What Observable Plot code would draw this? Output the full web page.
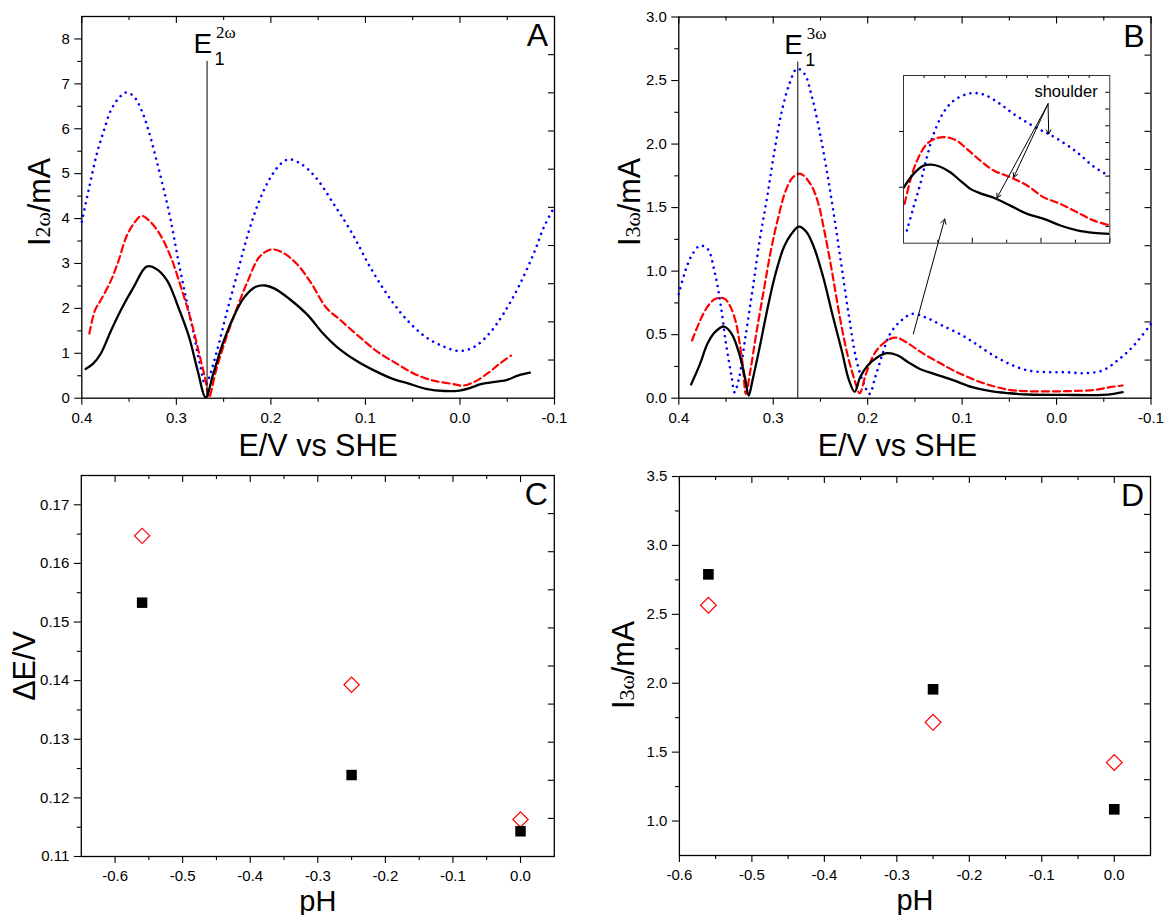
<!DOCTYPE html>
<html>
<head>
<meta charset="utf-8">
<script src="https://cdn.jsdelivr.net/npm/d3@7"></script>
<script src="https://cdn.jsdelivr.net/npm/@observablehq/plot@0.6"></script>
<style>
html, body { margin: 0; padding: 0; background: #fff; }
#chart { position: relative; width: 1165px; height: 915px; overflow: hidden; background: #fff; }
</style>
</head>
<body>
<div id="chart"></div>
<script>
// ---------------- DATA ----------------
// Panel A : second-harmonic current vs potential, [E (V vs SHE), I (mA)]
const aBlack = [[0.396,0.65],[0.388,0.77],[0.380,0.99],[0.369,1.51],[0.357,2.03],[0.345,2.48],[0.3315,2.93],[0.322,2.89],[0.310,2.63],[0.298,2.03],[0.2865,1.36],[0.2775,0.62],[0.269,0.02],[0.261,0.54],[0.251,1.21],[0.2395,1.81],[0.228,2.25],[0.216,2.48],[0.206,2.51],[0.196,2.44],[0.181,2.22],[0.161,1.85],[0.146,1.47],[0.130,1.14],[0.110,0.84],[0.091,0.62],[0.071,0.43],[0.055,0.33],[0.036,0.21],[0.016,0.16],[0.0006,0.17],[-0.011,0.23],[-0.023,0.32],[-0.039,0.37],[-0.050,0.41],[-0.062,0.51],[-0.074,0.57]];
const aRed = [[0.392,1.44],[0.386,1.96],[0.380,2.18],[0.369,2.63],[0.361,3.07],[0.353,3.59],[0.345,3.89],[0.337,4.06],[0.3295,3.97],[0.318,3.67],[0.306,3.15],[0.294,2.40],[0.2845,1.73],[0.275,0.92],[0.269,0.39],[0.2655,0.02],[0.258,0.62],[0.247,1.36],[0.2355,2.03],[0.224,2.63],[0.212,3.15],[0.200,3.31],[0.189,3.26],[0.173,3.00],[0.157,2.55],[0.142,2.03],[0.126,1.73],[0.106,1.36],[0.087,1.03],[0.067,0.77],[0.048,0.54],[0.028,0.39],[0.0085,0.32],[-0.003,0.28],[-0.015,0.36],[-0.031,0.58],[-0.042,0.77],[-0.054,0.95]];
const aBlue = [[0.400,3.93],[0.392,4.71],[0.384,5.45],[0.3765,5.97],[0.369,6.42],[0.361,6.68],[0.353,6.81],[0.345,6.72],[0.337,6.42],[0.3295,5.97],[0.322,5.38],[0.314,4.71],[0.306,3.97],[0.298,3.07],[0.290,2.25],[0.2825,1.51],[0.2745,0.70],[0.2695,0.30],[0.2655,0.45],[0.261,0.75],[0.255,1.21],[0.247,1.88],[0.2355,2.78],[0.224,3.67],[0.212,4.41],[0.200,4.93],[0.189,5.23],[0.181,5.32],[0.169,5.23],[0.153,4.93],[0.134,4.34],[0.114,3.67],[0.095,2.92],[0.075,2.25],[0.0555,1.73],[0.036,1.36],[0.016,1.14],[0.0006,1.05],[-0.015,1.14],[-0.031,1.44],[-0.046,1.88],[-0.062,2.48],[-0.078,3.22],[-0.089,3.82],[-0.100,4.26]];
const aE1 = [{E: 0.2675, top: 7.5, sup: "2ω"}];
const aXTicks = [0.4, 0.3, 0.2, 0.1, 0.0, -0.1];
const aXMinor = [0.35, 0.25, 0.15, 0.05, -0.05];
const aYTicks = [0, 1, 2, 3, 4, 5, 6, 7, 8];
const aYMinor = [0.5, 1.5, 2.5, 3.5, 4.5, 5.5, 6.5, 7.5];

// Panel B : third-harmonic current vs potential
const bBlack = [[0.387,0.108],[0.3775,0.27],[0.3696,0.43],[0.3617,0.52],[0.352,0.564],[0.344,0.507],[0.336,0.35],[0.330,0.165],[0.326,0.02],[0.322,0.14],[0.3144,0.40],[0.3065,0.69],[0.2986,0.95],[0.2887,1.19],[0.281,1.29],[0.273,1.35],[0.265,1.31],[0.257,1.19],[0.247,0.95],[0.2374,0.66],[0.2275,0.375],[0.2197,0.14],[0.2137,0.05],[0.208,0.165],[0.200,0.257],[0.190,0.32],[0.180,0.354],[0.168,0.336],[0.1565,0.28],[0.1447,0.23],[0.129,0.19],[0.109,0.14],[0.0894,0.087],[0.0697,0.055],[0.050,0.039],[0.030,0.029],[-0.0092,0.026],[-0.0487,0.026],[-0.0605,0.034],[-0.070,0.047]];
const bRed = [[0.386,0.454],[0.3775,0.61],[0.3696,0.72],[0.3617,0.78],[0.352,0.785],[0.346,0.73],[0.340,0.61],[0.336,0.454],[0.332,0.244],[0.329,0.034],[0.3242,0.218],[0.318,0.507],[0.310,0.85],[0.3025,1.163],[0.2946,1.425],[0.2867,1.635],[0.279,1.74],[0.271,1.766],[0.261,1.69],[0.2532,1.556],[0.2453,1.294],[0.2374,0.98],[0.2295,0.638],[0.2216,0.349],[0.2137,0.139],[0.2086,0.039],[0.2019,0.19],[0.194,0.336],[0.186,0.415],[0.1763,0.467],[0.1684,0.475],[0.1565,0.428],[0.1407,0.349],[0.125,0.283],[0.109,0.218],[0.0894,0.152],[0.0697,0.10],[0.050,0.066],[0.030,0.055],[-0.0092,0.055],[-0.041,0.066],[-0.0566,0.087],[-0.070,0.10]];
const bBlue = [[0.400,0.82],[0.393,1.005],[0.3854,1.136],[0.3775,1.20],[0.3696,1.176],[0.3617,0.98],[0.3558,0.743],[0.350,0.428],[0.344,0.165],[0.341,0.047],[0.336,0.165],[0.330,0.454],[0.322,0.848],[0.3144,1.24],[0.3065,1.58],[0.2986,1.95],[0.2907,2.265],[0.2828,2.475],[0.275,2.593],[0.267,2.554],[0.259,2.37],[0.2512,2.108],[0.2433,1.79],[0.2354,1.425],[0.2275,1.03],[0.2197,0.638],[0.2118,0.297],[0.204,0.113],[0.198,0.034],[0.192,0.165],[0.1842,0.349],[0.1763,0.507],[0.1644,0.612],[0.1526,0.664],[0.1368,0.630],[0.121,0.572],[0.1013,0.500],[0.0855,0.428],[0.0697,0.349],[0.050,0.27],[0.030,0.218],[0.0105,0.205],[-0.0092,0.205],[-0.029,0.197],[-0.0487,0.218],[-0.0645,0.297],[-0.080,0.40],[-0.100,0.585]];
const bE1 = [{E: 0.274, top: 2.645, sup: "3ω"}];
const bXTicks = [0.4, 0.3, 0.2, 0.1, 0.0, -0.1];
const bXMinor = [0.35, 0.25, 0.15, 0.05, -0.05];
const bYTicks = [0, 0.5, 1.0, 1.5, 2.0, 2.5, 3.0];
const bYMinor = [0.25, 0.75, 1.25, 1.75, 2.25, 2.75];
const bigArrow = [{x1: 0.1517, y1: 0.507, x2: 0.1185, y2: 1.41}];

// Inset of panel B (zoom on the 0.2 … 0.05 V region)
const insetBlack = [[0.200,0.247],[0.1927,0.31],[0.1854,0.347],[0.1798,0.351],[0.1733,0.342],[0.166,0.317],[0.1587,0.28],[0.1514,0.243],[0.1441,0.223],[0.1344,0.203],[0.1223,0.168],[0.1101,0.131],[0.098,0.109],[0.0859,0.079],[0.0737,0.057],[0.0616,0.046],[0.050,0.042]];
const insetRed = [[0.1992,0.176],[0.1951,0.28],[0.1902,0.369],[0.183,0.444],[0.1757,0.47],[0.168,0.473],[0.1611,0.458],[0.1538,0.421],[0.1441,0.369],[0.1344,0.325],[0.1223,0.295],[0.1101,0.258],[0.098,0.205],[0.0859,0.176],[0.0737,0.138],[0.0616,0.101],[0.050,0.08]];
const insetBlue = [[0.1975,0.057],[0.1927,0.161],[0.1878,0.265],[0.183,0.384],[0.1781,0.488],[0.1709,0.585],[0.1636,0.637],[0.1538,0.667],[0.1465,0.671],[0.1393,0.659],[0.1296,0.622],[0.1199,0.578],[0.1101,0.54],[0.1004,0.506],[0.0944,0.488],[0.0859,0.458],[0.0737,0.406],[0.0616,0.342],[0.050,0.30]];
const insetXTicks = [0.2, 0.15, 0.1, 0.05];
const insetXMinor = [0.175, 0.125, 0.075];
const insetYTicks = [0.25, 0.5];
const shoulderArrows = [
  {x1: 0.0949, y1: 0.623, x2: 0.0944, y2: 0.489},
  {x1: 0.0949, y1: 0.623, x2: 0.1199, y2: 0.295},
  {x1: 0.0949, y1: 0.623, x2: 0.1320, y2: 0.203}
];
const shoulderLabel = [{E: 0.1048, I: 0.652, text: "shoulder"}];

// Panels C and D : dependence on pH
const pH = [-0.56, -0.25, 0.0];
const cSquares = [0.1533, 0.1239, 0.1143];
const cDiamonds = [0.1647, 0.1393, 0.1163];
const dSquares = [2.79, 1.956, 1.085];
const dDiamonds = [2.566, 1.716, 1.425];
const cXTicks = [-0.6, -0.5, -0.4, -0.3, -0.2, -0.1, 0.0];
const cXMinor = [-0.55, -0.45, -0.35, -0.25, -0.15, -0.05];
const cYTicks = [0.11, 0.12, 0.13, 0.14, 0.15, 0.16, 0.17];
const cYMinor = [0.115, 0.125, 0.135, 0.145, 0.155, 0.165];
const dXTicks = [-0.6, -0.5, -0.4, -0.3, -0.2, -0.1, 0.0];
const dXMinor = [-0.55, -0.45, -0.35, -0.25, -0.15, -0.05];
const dYTicks = [1.0, 1.5, 2.0, 2.5, 3.0, 3.5];
const dYMinor = [1.25, 1.75, 2.25, 2.75, 3.25];

// ---------------- DRAWING ----------------
const FONT = '"Liberation Sans", Arial, Helvetica, sans-serif';
const SERIF = '"Liberation Serif", "Times New Roman", serif';
const chart = document.getElementById("chart");
const baseStyle = {fontFamily: FONT, fontSize: "15px", color: "black", background: "transparent", overflow: "visible"};

function place(el, left, top) {
  el.style.position = "absolute";
  el.style.left = left + "px";
  el.style.top = top + "px";
  chart.appendChild(el);
  return el;
}

function decorations({plotW, plotH, xMajor, xMinor, yMajor, yMinor, yDomain, xFmt, yFmt}) {
  const yRight = d3.range(1, 10).map(k => yDomain[0] + k * (yDomain[1] - yDomain[0]) / 10);
  return [
    Plot.tickX(xMajor, {x: d => d, insetBottom: plotH - 7, stroke: "black", strokeWidth: 1.1}),
    Plot.tickX(xMinor, {x: d => d, insetBottom: plotH - 4, stroke: "black", strokeWidth: 1.1}),
    Plot.tickY(yRight, {y: d => d, insetLeft: plotW - 6, stroke: "black", strokeWidth: 1.1}),
    Plot.axisX({ticks: xMajor, tickSize: 7, tickPadding: 7, tickFormat: xFmt, label: null, fontSize: 15, strokeWidth: 1.1}),
    Plot.axisX({ticks: xMinor, tickSize: 4, fill: "none", label: null, strokeWidth: 1.1}),
    Plot.axisY({ticks: yMajor, tickSize: 7, tickPadding: 5, tickFormat: yFmt, label: null, fontSize: 15, strokeWidth: 1.1}),
    Plot.axisY({ticks: yMinor, tickSize: 4, fill: "none", label: null, strokeWidth: 1.1}),
    Plot.frame({stroke: "black", strokeWidth: 1.3})
  ];
}

const lineBlack = {x: d => d[0], y: d => d[1], stroke: "black", strokeWidth: 2.3, curve: "catmull-rom"};
const lineRed = {x: d => d[0], y: d => d[1], stroke: "#ff0000", strokeWidth: 2.2, strokeDasharray: "7,4", curve: "catmull-rom"};
const lineBlue = {x: d => d[0], y: d => d[1], stroke: "#0000ff", strokeWidth: 2.6, strokeDasharray: "0.01,6.3", strokeLinecap: "round", curve: "catmull-rom"};

function e1Label(data) {
  return [
    Plot.ruleX(data, {x: "E", y1: 0, y2: "top", stroke: "black", strokeWidth: 1}),
    Plot.text(data, {x: "E", y: "top", text: () => "E", textAnchor: "start", lineAnchor: "bottom", dx: -13.5, dy: -8, fontSize: 28, fontFamily: FONT, fill: "black"}),
    Plot.text(data, {x: "E", y: "top", text: () => "1", textAnchor: "start", lineAnchor: "bottom", dx: 7.5, dy: 4, fontSize: 18, fontFamily: FONT, fill: "black"}),
    Plot.text(data, {x: "E", y: "top", text: "sup", textAnchor: "start", lineAnchor: "bottom", dx: 9, dy: -23, fontSize: 17, fontFamily: SERIF, fill: "black"})
  ];
}

function xTitle(label, dy, dx = 0, size = 30.5) {
  return Plot.text([label], {text: d => d, frameAnchor: "bottom", lineAnchor: "bottom", dy, dx, fontSize: size, fontFamily: FONT, fill: "black"});
}
function letter(label) {
  return Plot.text([label], {text: d => d, frameAnchor: "top-right", textAnchor: "end", lineAnchor: "bottom", dx: -6.5, dy: 29.5, fontSize: 32, fontFamily: FONT, fill: "black"});
}
function addYTitle(svg, x, y, parts) {
  const t = d3.select(svg).append("text")
    .attr("transform", `translate(${x},${y}) rotate(-90)`)
    .attr("text-anchor", "middle")
    .attr("fill", "black");
  parts.forEach(([s, size, fam]) => t.append("tspan").attr("font-size", size).attr("font-family", fam).text(s));
}

const fmt1 = d => d.toFixed(1);
const fmt2 = d => d.toFixed(2);

// ----- Panel A -----
{
  const W = 580, H = 460, mL = 81.3, mR = 26, mT = 16, mB = 62.3;
  const yDomain = [0, 8.5];
  const svg = Plot.plot({
    width: W, height: H, marginLeft: mL, marginRight: mR, marginTop: mT, marginBottom: mB,
    x: {domain: [0.4, -0.1]}, y: {domain: yDomain},
    style: baseStyle,
    marks: [
      ...decorations({plotW: W - mL - mR, plotH: H - mT - mB, xMajor: aXTicks, xMinor: aXMinor, yMajor: aYTicks, yMinor: aYMinor, yDomain, xFmt: fmt1, yFmt: d => String(d)}),
      Plot.line(aBlue, lineBlue),
      Plot.line(aRed, lineRed),
      Plot.line(aBlack, lineBlack),
      ...e1Label(aE1),
      xTitle("E/V vs SHE", 57.3),
      letter("A")
    ]
  });
  addYTitle(svg, 50, 202, [["I", 30.5, FONT], ["2ω", 22, SERIF], ["/mA", 30.5, FONT]]);
  place(svg, 0, 0);
}

// ----- Panel B -----
{
  const W = 585, H = 460, mL = 98.3, mR = 14.5, mT = 16.5, mB = 62.3;
  const yDomain = [0, 3.0];
  const svg = Plot.plot({
    width: W, height: H, marginLeft: mL, marginRight: mR, marginTop: mT, marginBottom: mB,
    x: {domain: [0.4, -0.1]}, y: {domain: yDomain},
    style: baseStyle,
    marks: [
      ...decorations({plotW: W - mL - mR, plotH: H - mT - mB, xMajor: bXTicks, xMinor: bXMinor, yMajor: bYTicks, yMinor: bYMinor, yDomain, xFmt: fmt1, yFmt: fmt1}),
      Plot.line(bBlue, lineBlue),
      Plot.line(bRed, lineRed),
      Plot.line(bBlack, lineBlack),
      ...e1Label(bE1),
      Plot.arrow(bigArrow, {x1: "x1", y1: "y1", x2: "x2", y2: "y2", stroke: "black", strokeWidth: 1, headLength: 8}),
      xTitle("E/V vs SHE", 57.3, -17.5),
      letter("B")
    ]
  });
  addYTitle(svg, 59.5, 202, [["I", 30.5, FONT], ["3ω", 22, SERIF], ["/mA", 30.5, FONT]]);
  place(svg, 580, 0);

  // inset
  const iW = 226.3, iH = 187.7, m = 10;
  const iPlotW = iW - 2 * m, iPlotH = iH - 2 * m;
  const iyDomain = [0, 0.75];
  const ixDomain = [0.2, 0.05];
  const iTop = d3.range(1, 10).map(k => ixDomain[0] + k * (ixDomain[1] - ixDomain[0]) / 10);
  const iRight = d3.range(1, 10).map(k => iyDomain[0] + k * (iyDomain[1] - iyDomain[0]) / 10);
  const inset = Plot.plot({
    width: iW, height: iH, margin: m,
    x: {domain: ixDomain, axis: null}, y: {domain: iyDomain, axis: null},
    style: baseStyle,
    marks: [
      Plot.line(insetBlue, {...lineBlue, clip: true}),
      Plot.line(insetRed, {...lineRed, clip: true}),
      Plot.line(insetBlack, {...lineBlack, clip: true}),
      Plot.tickX(insetXTicks, {x: d => d, insetTop: iPlotH - 5, stroke: "black", strokeWidth: 1}),
      Plot.tickX(insetXMinor, {x: d => d, insetTop: iPlotH - 3, stroke: "black", strokeWidth: 1}),
      Plot.tickX(iTop, {x: d => d, insetBottom: iPlotH - 3, stroke: "black", strokeWidth: 1}),
      Plot.tickY(iRight, {y: d => d, insetLeft: iPlotW - 4, stroke: "black", strokeWidth: 1}),
      Plot.tickY(insetYTicks, {y: d => d, insetRight: iPlotW - 4, dx: -4, stroke: "black", strokeWidth: 1}),
      Plot.frame({stroke: "#333", strokeWidth: 1}),
      Plot.arrow(shoulderArrows, {x1: "x1", y1: "y1", x2: "x2", y2: "y2", stroke: "black", strokeWidth: 1, headLength: 7}),
      Plot.text(shoulderLabel, {x: "E", y: "I", text: "text", textAnchor: "start", lineAnchor: "bottom", fontSize: 16.5, fontFamily: FONT, fill: "black"})
    ]
  });
  place(inset, 893.3, 65);
}

// ----- Panel C -----
{
  const W = 580, H = 455, mL = 80.8, mR = 26.2, mT = 15, mB = 59;
  const yDomain = [0.11, 0.175];
  const svg = Plot.plot({
    width: W, height: H, marginLeft: mL, marginRight: mR, marginTop: mT, marginBottom: mB,
    x: {domain: [-0.65, 0.05]}, y: {domain: yDomain},
    style: baseStyle,
    marks: [
      ...decorations({plotW: W - mL - mR, plotH: H - mT - mB, xMajor: cXTicks, xMinor: cXMinor, yMajor: cYTicks, yMinor: cYMinor, yDomain, xFmt: fmt1, yFmt: fmt2}),
      Plot.dot(pH, {x: d => d, y: (d, i) => cDiamonds[i], symbol: "square", rotate: 45, r: 6.1, fill: "none", stroke: "#ff0000", strokeWidth: 1.2}),
      Plot.dot(pH, {x: d => d, y: (d, i) => cSquares[i], symbol: "square", r: 5.9, fill: "black", stroke: "none"}),
      xTitle("pH", 54, 0, 29),
      letter("C")
    ]
  });
  addYTitle(svg, 35, 206, [["ΔE/V", 30.5, FONT]]);
  place(svg, 0, 460);
}

// ----- Panel D -----
{
  const W = 585, H = 455, mL = 98.9, mR = 15, mT = 16, mB = 60;
  const yDomain = [0.75, 3.5];
  const svg = Plot.plot({
    width: W, height: H, marginLeft: mL, marginRight: mR, marginTop: mT, marginBottom: mB,
    x: {domain: [-0.6, 0.05]}, y: {domain: yDomain},
    style: baseStyle,
    marks: [
      ...decorations({plotW: W - mL - mR, plotH: H - mT - mB, xMajor: dXTicks, xMinor: dXMinor, yMajor: dYTicks, yMinor: dYMinor, yDomain, xFmt: fmt1, yFmt: fmt1}),
      Plot.dot(pH, {x: d => d, y: (d, i) => dDiamonds[i], symbol: "square", rotate: 45, r: 6.3, fill: "none", stroke: "#ff0000", strokeWidth: 1.2}),
      Plot.dot(pH, {x: d => d, y: (d, i) => dSquares[i], symbol: "square", r: 6, fill: "black", stroke: "none"}),
      xTitle("pH", 54, 0, 29),
      letter("D")
    ]
  });
  addYTitle(svg, 54, 205, [["I", 30.5, FONT], ["3ω", 22, SERIF], ["/mA", 30.5, FONT]]);
  place(svg, 580, 460);
}
</script>
</body>
</html>
